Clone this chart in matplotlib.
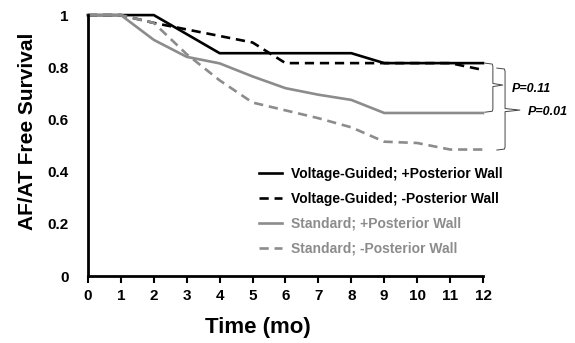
import matplotlib
matplotlib.use("Agg")
import matplotlib.pyplot as plt

plt.rcParams['font.family'] = ['Liberation Sans', 'DejaVu Sans']

months = [0, 1, 2, 3, 4, 5, 6, 7, 8, 9, 10, 11, 12]
vg_pw = [1, 1, 1, 0.927, 0.854, 0.854, 0.854, 0.854, 0.854, 0.816, 0.816, 0.816, 0.816]
vg_nopw = [1, 1, 0.97, 0.945, 0.92, 0.895, 0.816, 0.816, 0.816, 0.816, 0.816, 0.816, 0.79]
std_pw = [1, 1, 0.905, 0.84, 0.815, 0.765, 0.72, 0.695, 0.675, 0.625, 0.625, 0.625, 0.625]
std_nopw = [1, 1, 0.97, 0.85, 0.75, 0.665, 0.635, 0.605, 0.57, 0.515, 0.51, 0.485, 0.485]

labels = ["Voltage-Guided; +Posterior Wall", "Voltage-Guided; -Posterior Wall",
          "Standard; +Posterior Wall", "Standard; -Posterior Wall"]
p_labels = ["P=0.11", "P=0.01"]
xticks = list(range(0, 13))
yticks = [0, 0.2, 0.4, 0.6, 0.8, 1]
ytick_labels = ["0", "0.2", "0.4", "0.6", "0.8", "1"]

gray = "#8c8c8c"

fig = plt.figure(figsize=(5.75, 3.43), dpi=100)
ax = fig.add_axes([0.153, 0.195, 0.687, 0.761])

lw = 1.9
ax.plot(months, vg_pw, color="black", lw=lw, label=labels[0], clip_on=False)
ax.plot(months, vg_nopw, color="black", lw=lw, ls=(0, (3.5, 2.2)), label=labels[1], clip_on=False)
ax.plot(months, std_pw, color=gray, lw=lw, label=labels[2], clip_on=False)
ax.plot(months, std_nopw, color=gray, lw=lw, ls=(0, (3.5, 2.2)), label=labels[3], clip_on=False)

ax.set_xlim(0, 12)
ax.set_ylim(0, 1)
ax.set_xticks(xticks)
ax.set_xticklabels([str(t) for t in xticks], fontsize=11, fontweight="bold")
ax.set_yticks(yticks)
ax.set_yticklabels(ytick_labels, fontsize=11, fontweight="bold")
ax.tick_params(axis="y", length=0, pad=14)
ax.tick_params(axis="x", length=5, width=1.5, direction="out", pad=4)
for s in ["top", "right"]:
    ax.spines[s].set_visible(False)
for s in ["left", "bottom"]:
    ax.spines[s].set_linewidth(2)

ax.set_xlabel("Time (mo)", fontsize=16, fontweight="bold")
ax.xaxis.set_label_coords(0.43, -0.155)
ax.set_ylabel("AF/AT Free Survival", fontsize=15, fontweight="bold")
ax.yaxis.set_label_coords(-0.128, 0.556)

leg = ax.legend(loc="lower left", bbox_to_anchor=(0.42, 0.056), frameon=False,
                prop={"weight": "bold", "size": 10}, handlelength=1.65, handletextpad=0.6,
                labelspacing=0.8, borderaxespad=0)
for txt, c in zip(leg.get_texts(), ["black", "black", gray, gray]):
    txt.set_color(c)

# curly braces
def brace(x0, x1, x2, ytop, ybot, ymid, d=0.012):
    xs = [x0, x1 - 0.02, x1, x1, x2, x1, x1, x1 - 0.02, x0]
    ys = [ytop, ytop - d * 0.3, ytop - d, ymid + d * 0.5, ymid, ymid - d * 0.5, ybot + d, ybot + d * 0.3, ybot]
    ax.plot(xs, ys, color="#444444", lw=0.7, clip_on=False)

brace(12.06, 12.3, 12.6, 0.816, 0.628, 0.732)
brace(12.42, 12.67, 13.12, 0.797, 0.483, 0.636)
ax.text(12.88, 0.716, p_labels[0], fontsize=9, fontweight="bold", style="italic", va="center", ha="left")
ax.text(13.37, 0.63, p_labels[1], fontsize=9, fontweight="bold", style="italic", va="center", ha="left")

fig.savefig("out.png", dpi=100)
